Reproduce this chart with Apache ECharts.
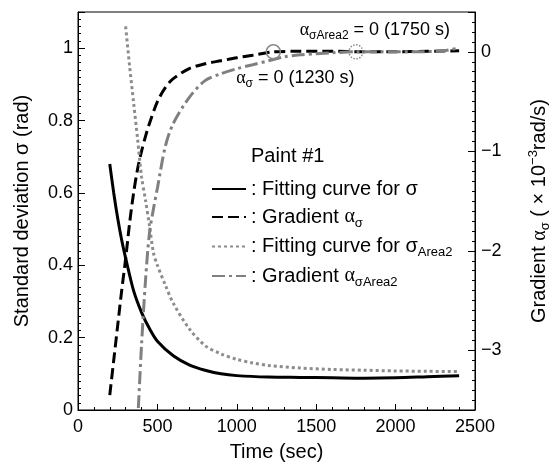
<!DOCTYPE html>
<html>
<head>
<meta charset="utf-8">
<script src="https://cdn.jsdelivr.net/npm/echarts@6/dist/echarts.min.js"></script>
<style>
html, body { margin: 0; padding: 0; background: #fff; }
#chart { width: 550px; height: 465px; }
</style>
</head>
<body>
<div id="chart"></div>
<script>
// values, time in seconds
const fitTime = [200, 225, 250, 275, 300, 350, 400, 450, 500, 600, 700, 800, 900, 1000, 1200, 1400, 1600, 1800, 2000, 2200, 2400];
const fitSigma = [0.68, 0.60, 0.53, 0.47, 0.42, 0.33, 0.27, 0.225, 0.19, 0.15, 0.125, 0.11, 0.10, 0.095, 0.091, 0.09, 0.089, 0.088, 0.089, 0.092, 0.095];

const gradTime = [200, 225, 250, 275, 300, 325, 350, 375, 400, 425, 450, 500, 550, 600, 700, 800, 900, 1000, 1100, 1230, 1400, 1600, 1800, 2000, 2200, 2400];
const gradSigma = [-3.45, -3.1, -2.75, -2.4, -2.08, -1.72, -1.42, -1.18, -1.0, -0.85, -0.72, -0.5, -0.36, -0.27, -0.17, -0.12, -0.09, -0.06, -0.035, 0, 0.005, 0.005, 0, 0, 0.005, 0.01];

const area2Time = [300, 325, 350, 375, 400, 425, 450, 475, 500, 550, 600, 700, 800, 900, 1000, 1100, 1200, 1400, 1600, 1800, 2000, 2200, 2400];
const area2Sigma = [1.06, 0.95, 0.85, 0.75, 0.645, 0.58, 0.51, 0.435, 0.40, 0.345, 0.295, 0.225, 0.178, 0.155, 0.14, 0.13, 0.123, 0.116, 0.112, 0.11, 0.108, 0.107, 0.106];

const grad2Time = [380, 400, 425, 450, 475, 500, 550, 600, 700, 800, 900, 1000, 1100, 1200, 1300, 1400, 1500, 1600, 1750, 1900, 2100, 2300, 2400];
const grad2Sigma = [-3.58, -2.95, -2.3, -1.82, -1.58, -1.37, -0.95, -0.72, -0.46, -0.29, -0.22, -0.17, -0.13, -0.09, -0.05, -0.03, -0.02, -0.01, 0, 0, 0, 0.01, 0.04];

const zeroPoints = [[1230, 0], [1750, 0]];

const FONT = '"Liberation Sans", Arial, Helvetica, sans-serif';

function pairs(xs, ys) {
    return xs.map((x, i) => [x, ys[i]]);
}

const rich = {
    a: { fontFamily: '"Liberation Serif", serif', fontSize: 20 },
    sub: { fontSize: 13, padding: [12, 0, 0, 0] },
    sup: { fontSize: 13, padding: [0, 0, 12, 0] },
    as: { fontFamily: '"Liberation Serif", serif', fontSize: 18 },
    ssub: { fontSize: 12, padding: [11, 0, 0, 0] }
};

const legendText = {
    fit: ': Fitting curve for σ',
    grad: ': Gradient {a|α}{sub|σ}',
    fit2: ': Fitting curve for σ{sub|Area2}',
    grad2: ': Gradient {a|α}{sub|σArea2}'
};

const chart = echarts.init(document.getElementById('chart'));

chart.setOption({
    animation: false,
    textStyle: { fontFamily: FONT, color: '#000' },
    title: {
        text: 'Paint #1',
        left: 251,
        top: 146,
        padding: 0,
        textStyle: { fontSize: 20, fontWeight: 'normal', color: '#000', fontFamily: FONT }
    },
    legend: {
        orient: 'vertical',
        left: 211,
        top: 178,
        padding: 0,
        itemWidth: 34,
        itemHeight: 22,
        itemGap: 6,
        selectedMode: false,
        itemStyle: { opacity: 0 },
        data: ['fit', 'grad', 'fit2', 'grad2'],
        formatter: name => legendText[name],
        textStyle: { fontSize: 20, fontFamily: FONT, color: '#000', lineHeight: 22, rich: rich }
    },
    grid: {
        left: 78, right: 75, top: 12, bottom: 55,
        outerBoundsMode: 'none',
        containLabel: false,
        show: true, borderColor: '#000', borderWidth: 1
    },
    xAxis: {
        type: 'value',
        min: 0, max: 2500, interval: 500,
        name: 'Time (sec)',
        nameLocation: 'middle',
        nameGap: 32,
        nameTextStyle: { fontSize: 20, fontFamily: FONT, color: '#000' },
        axisLine: { lineStyle: { color: '#000', width: 1 } },
        axisTick: { inside: true, length: 6, lineStyle: { color: '#000' } },
        minorTick: { show: true, splitNumber: 5, length: 3, lineStyle: { color: '#000' } },
        axisLabel: { fontSize: 18, color: '#000', margin: 8, formatter: v => String(v) },
        splitLine: { show: false }
    },
    yAxis: [
        {
            type: 'value',
            min: 0, max: 1.1, interval: 0.2,
            name: 'Standard deviation σ (rad)',
            nameLocation: 'middle',
            nameGap: 46,
            nameTextStyle: { fontSize: 20, fontFamily: FONT, color: '#000' },
            axisLine: { show: true, lineStyle: { color: '#000', width: 1 } },
            axisTick: { inside: true, length: 7, lineStyle: { color: '#000' } },
            minorTick: { show: true, splitNumber: 10, length: 3, lineStyle: { color: '#000' } },
            axisLabel: {
                fontSize: 18, color: '#000', margin: 5,
                formatter: v => (v > 1.05 ? '' : String(Number(v.toFixed(2))))
            },
            splitLine: { show: false }
        },
        {
            type: 'value',
            position: 'right',
            min: -3.6, max: 0.4, splitNumber: 4,
            name: 'Gradient {a|α}{sub|σ} ( × 10{sup|−3}rad/s)',
            nameLocation: 'middle',
            nameGap: 52,
            nameTextStyle: { fontSize: 20, fontFamily: FONT, color: '#000', rich: rich },
            axisLine: { show: true, lineStyle: { color: '#000', width: 1 } },
            axisTick: { inside: true, length: 7, lineStyle: { color: '#000' } },
            minorTick: { show: true, splitNumber: 10, length: 3, lineStyle: { color: '#000' } },
            axisLabel: {
                fontSize: 18, color: '#000', margin: 6,
                formatter: v => {
                    if (Math.abs(v - Math.round(v)) > 0.01) return '';
                    const r = Math.round(v);
                    return r < 0 ? '−' + Math.abs(r) : String(r);
                }
            },
            splitLine: { show: false }
        }
    ],
    series: [
        {
            name: 'fit',
            type: 'line',
            yAxisIndex: 0,
            symbol: 'none',
            smooth: 0.3,
            data: pairs(fitTime, fitSigma),
            lineStyle: { color: '#000', width: 3, type: 'solid' },
            itemStyle: { color: '#000' }
        },
        {
            name: 'grad',
            type: 'line',
            yAxisIndex: 1,
            symbol: 'none',
            smooth: 0.3,
            data: pairs(gradTime, gradSigma),
            lineStyle: { color: '#000', width: 3, type: [11, 5] },
            itemStyle: { color: '#000' },
            markPoint: {
                symbol: 'circle',
                symbolSize: 14,
                itemStyle: { color: 'rgba(0,0,0,0)', borderColor: '#8a8a8a', borderWidth: 1.5 },
                label: {
                    show: true, position: 'inside', offset: [22, 26],
                    fontSize: 18, color: '#000', fontFamily: FONT, rich: rich,
                    formatter: '{as|α}{ssub|σ} = 0 (1230 s)'
                },
                data: [{ coord: zeroPoints[0] }]
            }
        },
        {
            name: 'fit2',
            type: 'line',
            yAxisIndex: 0,
            symbol: 'none',
            smooth: 0.3,
            data: pairs(area2Time, area2Sigma),
            lineStyle: { color: '#8c8c8c', width: 3, type: [3, 3] },
            itemStyle: { color: '#8c8c8c' }
        },
        {
            name: 'grad2',
            type: 'line',
            yAxisIndex: 1,
            symbol: 'none',
            smooth: 0.3,
            data: pairs(grad2Time, grad2Sigma),
            lineStyle: { color: '#808080', width: 3, type: [13, 4, 3, 4] },
            itemStyle: { color: '#808080' },
            markPoint: {
                symbol: 'circle',
                symbolSize: 14,
                itemStyle: { color: 'rgba(0,0,0,0)', borderColor: '#8a8a8a', borderWidth: 1.5, borderType: 'dotted' },
                label: {
                    show: true, position: 'inside', offset: [19, -22],
                    fontSize: 18, color: '#000', fontFamily: FONT, rich: rich,
                    formatter: '{as|α}{ssub|σArea2} = 0 (1750 s)'
                },
                data: [{ coord: zeroPoints[1] }]
            }
        }
    ]
});
</script>
</body>
</html>
